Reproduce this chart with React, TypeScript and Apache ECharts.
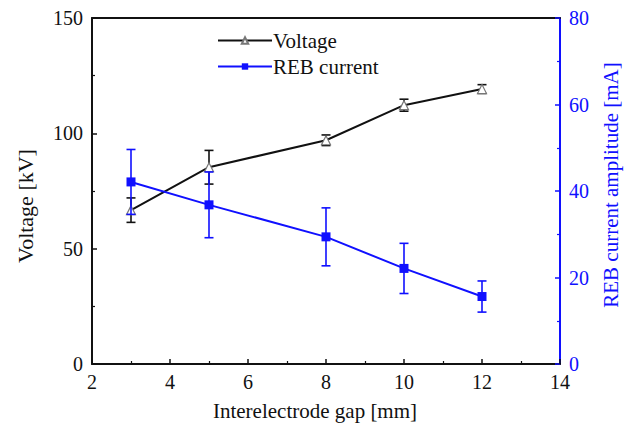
import React, { useEffect, useRef } from "react";
import * as echarts from "echarts";

const gaps = [3, 5, 8, 10, 12];
const voltage = [66.7, 85.3, 97.0, 112.2, 119.2];
const voltageErr = [5.3, 7.3, 2.3, 2.6, 1.9];
const current = [42.1, 36.8, 29.4, 22.1, 15.6];
const currentErr = [7.5, 7.6, 6.7, 5.8, 3.6];
const xTicks = { min: 2, max: 14, interval: 2 };
const vTicks = { min: 0, max: 150, interval: 50 };
const cTicks = { min: 0, max: 80, interval: 20 };

const FONT = "'Liberation Serif', 'Times New Roman', serif";
const BLUE = "#1010ff";
const BLACK = "#111111";
const TICK_FS = 20;
const TITLE_FS = 21;

function errorRender(color: string) {
  return (params: any, api: any) => {
    const x = api.value(0);
    const y = api.value(1);
    const e = api.value(2);
    const top = api.coord([x, y + e]);
    const bot = api.coord([x, y - e]);
    const hw = 4.5;
    const style = { stroke: color, lineWidth: 1.6 };
    return {
      type: "group",
      children: [
        { type: "line", shape: { x1: top[0], y1: top[1], x2: bot[0], y2: bot[1] }, style },
        { type: "line", shape: { x1: top[0] - hw, y1: top[1], x2: top[0] + hw, y2: top[1] }, style },
        { type: "line", shape: { x1: bot[0] - hw, y1: bot[1], x2: bot[0] + hw, y2: bot[1] }, style },
      ],
    };
  };
}

export default function App() {
  const ref = useRef<HTMLDivElement>(null);
  useEffect(() => {
    document.body.style.margin = "0";
    const chart = echarts.init(ref.current!, null, { renderer: "svg" });
    const tick = { show: true, inside: true, length: 5 };
    const minor = { show: true, splitNumber: 2, length: 3 };
    chart.setOption({
      animation: false,
      backgroundColor: "#ffffff",
      textStyle: { fontFamily: FONT },
      grid: { left: 92, right: 72, top: 18, bottom: 60 },
      legend: {
        data: ["Voltage", "REB current"],
        orient: "vertical",
        left: 212,
        top: 25,
        itemWidth: 54,
        itemHeight: 8,
        itemGap: 5,
        textStyle: { fontFamily: FONT, fontSize: TITLE_FS, color: BLACK, padding: [0, 0, 0, -4] },
      },
      xAxis: [
        {
          type: "value",
          min: xTicks.min,
          max: xTicks.max,
          interval: xTicks.interval,
          axisLine: { lineStyle: { color: BLACK, width: 2 } },
          axisTick: { ...tick, lineStyle: { color: BLACK, width: 1.5 } },
          minorTick: { ...minor, lineStyle: { color: BLACK, width: 1.2 } },
          axisLabel: { fontFamily: FONT, fontSize: TICK_FS, color: BLACK, margin: 8 },
          splitLine: { show: false },
        },
        {
          type: "value",
          position: "top",
          min: xTicks.min,
          max: xTicks.max,
          axisLine: { show: true, onZero: false, lineStyle: { color: BLACK, width: 2 } },
          axisTick: { show: false },
          axisLabel: { show: false },
          splitLine: { show: false },
        },
      ],
      yAxis: [
        {
          type: "value",
          min: vTicks.min,
          max: vTicks.max,
          interval: vTicks.interval,
          axisLine: { show: true, lineStyle: { color: BLACK, width: 2 } },
          axisTick: { ...tick, lineStyle: { color: BLACK, width: 1.5 } },
          minorTick: { ...minor, lineStyle: { color: BLACK, width: 1.2 } },
          axisLabel: { fontFamily: FONT, fontSize: TICK_FS, color: BLACK, margin: 9 },
          splitLine: { show: false },
        },
        {
          type: "value",
          position: "right",
          min: cTicks.min,
          max: cTicks.max,
          interval: cTicks.interval,
          axisLine: { show: true, lineStyle: { color: BLUE, width: 2 } },
          axisTick: { ...tick, lineStyle: { color: BLUE, width: 1.5 } },
          minorTick: { ...minor, lineStyle: { color: BLUE, width: 1.2 } },
          axisLabel: { fontFamily: FONT, fontSize: TICK_FS, color: BLUE, margin: 9 },
          splitLine: { show: false },
        },
      ],
      graphic: [
        {
          type: "text",
          x: 315,
          y: 411,
          style: {
            text: "Interelectrode gap [mm]",
            fontFamily: FONT,
            fontSize: TITLE_FS,
            fill: BLACK,
            textAlign: "center",
            textVerticalAlign: "middle",
          },
        },
        {
          type: "text",
          x: 25,
          y: 206,
          rotation: Math.PI / 2,
          style: {
            text: "Voltage [kV]",
            fontFamily: FONT,
            fontSize: 22,
            fill: BLACK,
            textAlign: "center",
            textVerticalAlign: "middle",
          },
        },
        {
          type: "text",
          x: 611,
          y: 185,
          rotation: Math.PI / 2,
          style: {
            text: "REB current amplitude [mA]",
            fontFamily: FONT,
            fontSize: TITLE_FS,
            fill: BLUE,
            textAlign: "center",
            textVerticalAlign: "middle",
          },
        },
      ],
      series: [
        {
          name: "Voltage err",
          type: "custom",
          xAxisIndex: 0,
          yAxisIndex: 0,
          renderItem: errorRender(BLACK),
          data: gaps.map((g, i) => [g, voltage[i], voltageErr[i]]),
          z: 2,
        },
        {
          name: "Voltage",
          type: "line",
          xAxisIndex: 0,
          yAxisIndex: 0,
          data: gaps.map((g, i) => [g, voltage[i]]),
          symbol: "triangle",
          symbolSize: 9,
          showAllSymbol: true,
          lineStyle: { color: BLACK, width: 2 },
          itemStyle: { color: "#ffffff", borderColor: "#777777", borderWidth: 1.2 },
          z: 3,
        },
        {
          name: "REB current err",
          type: "custom",
          xAxisIndex: 0,
          yAxisIndex: 1,
          renderItem: errorRender(BLUE),
          data: gaps.map((g, i) => [g, current[i], currentErr[i]]),
          z: 4,
        },
        {
          name: "REB current",
          type: "line",
          xAxisIndex: 0,
          yAxisIndex: 1,
          data: gaps.map((g, i) => [g, current[i]]),
          symbol: "rect",
          symbolSize: 9,
          lineStyle: { color: BLUE, width: 2 },
          itemStyle: { color: BLUE, borderColor: BLUE, borderWidth: 0 },
          z: 5,
        },
      ],
    });
    return () => chart.dispose();
  }, []);
  return <div ref={ref} style={{ width: 632, height: 424 }} />;
}
